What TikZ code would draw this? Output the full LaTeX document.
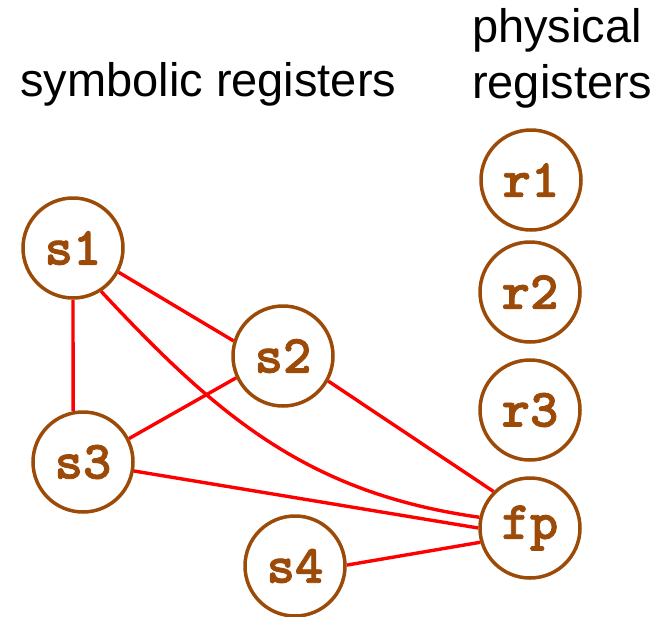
\documentclass[tikz,border=0pt]{standalone}
\usepackage{fontspec}
\setmainfont{Liberation Sans}
\newfontfamily\regfont{lmmonolt10-bold.otf}[FakeBold=1.5]
\definecolor{regbrown}{RGB}{156,74,8}
\definecolor{edgered}{RGB}{255,0,0}
\tikzset{
  reg/.style={circle, draw=regbrown, line width=3.5pt, minimum size=100pt, inner sep=0pt,
    text=regbrown, font=\fontsize{54}{54}\selectfont\regfont},
  title/.style={anchor=base west, inner sep=0pt, font=\fontsize{47}{56}\selectfont},
  edge/.style={draw=edgered, line width=3.4pt}
}
\begin{document}
\begin{tikzpicture}[x=1pt,y=1pt]
\useasboundingbox (0,0) rectangle (663,-616);
\node[title] (tsym) at (20,-96) {symbolic registers};
\node[title] (tphys) at (472,-42) {physical};
\node[title] (treg) at (472,-98) {registers};

\node[reg] (s1) at (73,-248) {s1};
\node[reg] (s2) at (283,-356) {s2};
\node[reg] (s3) at (83,-462) {s3};
\node[reg] (s4) at (295,-566) {s4};
\node[reg] (r1) at (531,-180) {r1};
\node[reg] (r2) at (530,-292) {r2};
\node[reg] (r3) at (530,-410) {r3};
\node[reg] (fp) at (530,-528) {fp};

\draw[edge] (s1.south) -- (s3.101);
\draw[edge] (s1.-28) -- (s2.163);
\draw[edge] (s2.205) -- (s3.27);
\draw[edge] (s2.-29) -- (fp.135);
\draw[edge] (s3.-10) -- (fp.180);
\draw[edge] (s4.1) -- (fp.196);
\draw[edge] (s1.-57) to[out=-47,in=172] (fp.168);
\end{tikzpicture}
\end{document}
